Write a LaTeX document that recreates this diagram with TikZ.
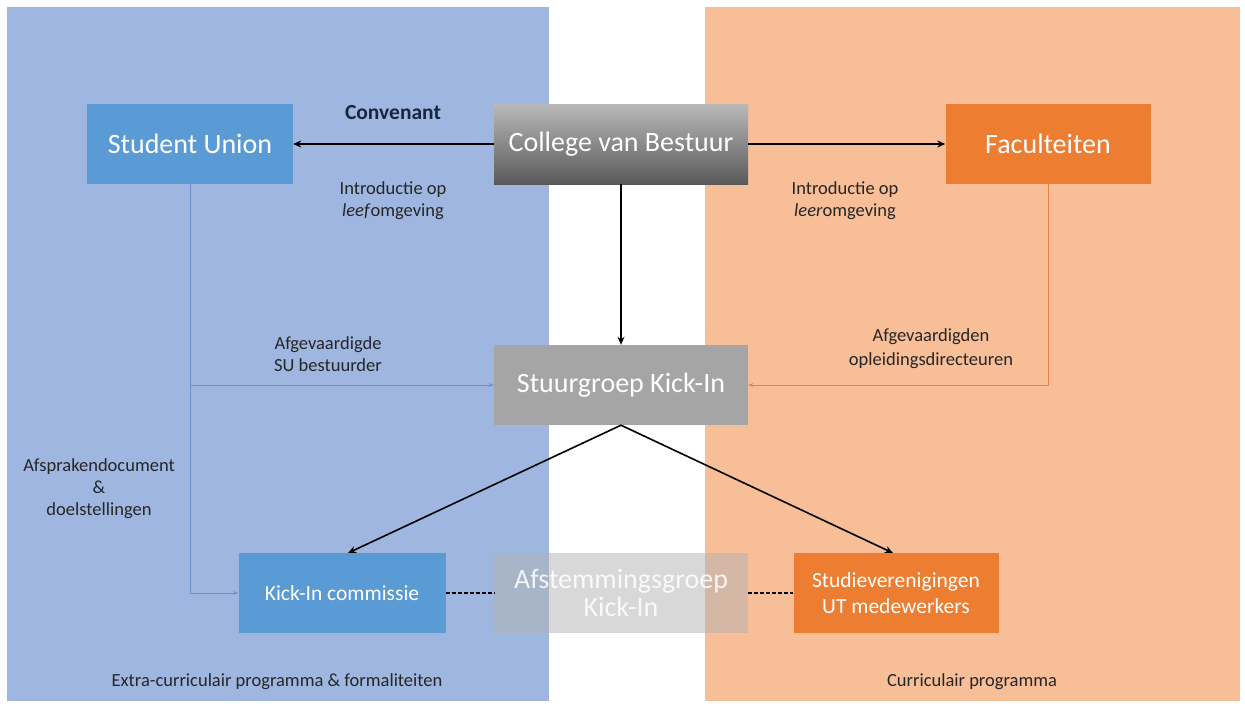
\documentclass[tikz,border=0pt]{standalone}
\usepackage{fontspec}
\setmainfont{Carlito}
\usetikzlibrary{arrows.meta}
\definecolor{bluepanel}{HTML}{9FB7E0}
\definecolor{orangepanel}{HTML}{F7BE98}
\definecolor{sublue}{HTML}{5B9BD5}
\definecolor{facorange}{HTML}{ED7D31}
\definecolor{stgray}{HTML}{A5A5A5}
\definecolor{lbltext}{HTML}{262626}
\definecolor{navy}{HTML}{1A2540}
\definecolor{bluelink}{HTML}{6C8FD0}
\definecolor{orangelink}{HTML}{E8843F}
\tikzset{
  box/.style={rectangle, inner sep=0pt, text=white, align=center},
  bigtxt/.style={font=\fontsize{28}{28}\selectfont},
  midtxt/.style={font=\fontsize{21.5}{26}\selectfont},
  lbl/.style={text=lbltext, align=center, font=\fontsize{18.5}{22}\selectfont, inner sep=0pt},
  arr/.style={-{Stealth[length=8pt,width=7pt]}, line width=1.6pt, black},
  thinblue/.style={-{Stealth[length=5pt,width=4pt]}, line width=0.8pt, bluelink},
  thinorange/.style={-{Stealth[length=5pt,width=4pt]}, line width=0.8pt, orangelink},
  dashlink/.style={dash pattern=on 4pt off 2pt, line width=1.4pt, black},
}
\begin{document}
\begin{tikzpicture}[x=1pt,y=-1pt]
\useasboundingbox (0,0) rectangle (1245,704);
\fill[white] (0,0) rectangle (1245,704);
% panels
\fill[bluepanel] (7,7) rectangle (549,701);
\fill[orangepanel] (705,7) rectangle (1240,701);

% nodes
\node[box, bigtxt, fill=sublue, minimum width=206pt, minimum height=80pt] (su) at (190,144) {Student Union};
\node[box, bigtxt, top color=gray!55, bottom color=gray!70!black, minimum width=254pt, minimum height=80pt] (cvb) at (621,144) {College van Bestuur};
\node[box, bigtxt, fill=facorange, minimum width=205pt, minimum height=80pt] (fac) at (1048,144) {Faculteiten};
\node[box, bigtxt, fill=stgray, minimum width=254pt, minimum height=80pt] (stg) at (621,385) {Stuurgroep Kick-In};
\node[box, midtxt, fill=sublue, minimum width=207pt, minimum height=80pt] (kic) at (342,593) {Kick-In commissie};
\node[box, bigtxt, fill=gray!60, fill opacity=0.5, text opacity=0.85, minimum width=254pt, minimum height=80pt] (afs) at (621,593) {Afstemmingsgroep\\Kick-In};
\node[box, midtxt, fill=facorange, minimum width=205pt, minimum height=80pt] (sv) at (896,593) {Studieverenigingen\\UT medewerkers};

% labels
\node[lbl, text=navy, font=\bfseries\fontsize{21.5}{24}\selectfont] (conv) at (393,113) {Convenant};
\node[lbl] (leef) at (393,201) {Introductie op\\\textit{leef}omgeving};
\node[lbl] (leer) at (845,201) {Introductie op\\\textit{leer}omgeving};
\node[lbl] (afsu) at (328,354) {Afgevaardigde\\SU bestuurder};
\node[lbl, font=\fontsize{18.5}{24}\selectfont] (afod) at (931,349) {Afgevaardigden\\opleidingsdirecteuren};
\node[lbl] (afsp) at (99,489) {Afsprakendocument\\\&\\doelstellingen};
\node[lbl] (extra) at (277,682) {Extra-curriculair programma \& formaliteiten};
\node[lbl] (curr) at (972,682) {Curriculair programma};

% coordinates
\coordinate (sujoin) at (190,385);
\coordinate (sucorner) at (190,593);
\coordinate (facjoin) at (1048,385);
\coordinate (kictop) at (348,553);
\coordinate (svtop) at (893,553);

% connectors
\draw[arr] (cvb.west) -- (su.east);
\draw[arr] (cvb.east) -- (fac.west);
\draw[arr] (cvb.south) -- (stg.north);
\draw[thinblue] (su.south) -- (sucorner) -- (kic.west);
\draw[thinblue] (sujoin) -- (stg.west);
\draw[thinorange] (fac.south) -- (facjoin) -- (stg.east);
\draw[arr] (stg.south) -- (kictop);
\draw[arr] (stg.south) -- (svtop);
\draw[dashlink] (kic.east) -- (afs.west);
\draw[dashlink] (afs.east) -- (sv.west);
\end{tikzpicture}
\end{document}
